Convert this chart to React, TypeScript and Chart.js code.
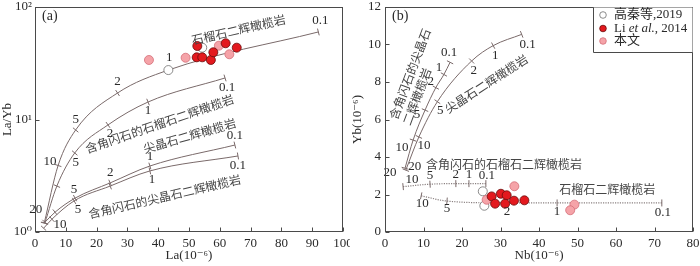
import React, { useEffect, useRef } from "react";
import { Chart, registerables } from "chart.js";

Chart.register(...registerables);

const SERIF = '"Liberation Serif", "DejaVu Serif", "Noto Sans CJK SC", serif';
const LINE = "#7a6a6a";
const AXIS = "#4a4a4a";
const TXT = "#2a2a2a";
const CJK_TXT = "#454545";

// melt-fraction tick labels (%) along the model curves
const MELT6 = ["20", "10", "5", "2", "1", "0.1"];
const MELT5 = ["10", "5", "2", "1", "0.1"];

// ---------------- Panel (a): La vs La/Yb ----------------
const aGrtLa = [3.0, 7.5, 13.2, 26.8, 43.3, 92.0];
const aGrtLaYb = [1.2, 3.9, 8.07, 17.2, 27.5, 60];
const aHblGrtLa = [3.2, 7.1, 12.9, 23.7, 36.7, 61.7];
const aHblGrtLaYb = [1.2, 2.56, 5.04, 8.95, 14.3, 23.4];
const aSpLa = [3.2, 6.5, 13.0, 24.4, 37.3, 64.9];
const aSpLaYb = [1.22, 1.5, 2.0, 2.73, 3.86, 5.93];
const aHblSpLa = [2.8, 5.5, 12.7, 24.4, 37.3, 65.9];
const aHblSpLaYb = [1.08, 1.3, 1.89, 2.56, 3.49, 4.74];

const aGaoLa = [54.3, 43.3];
const aGaoLaYb = [43.5, 27.5];
const aLiLa = [52.5, 54.3, 57.1, 57.9, 52.7, 61.9, 65.5];
const aLiLaYb = [35.7, 35.7, 33.8, 39.6, 45.0, 47.6, 43.5];
const aThisLa = [37.0, 48.9, 59.7, 63.1];
const aThisLaYb = [33.8, 35.4, 45.3, 38.0];

const aYTicks = [1, 10, 100];
const aYTickText = ["10⁰", "10¹", "10²"];

// ---------------- Panel (b): Nb vs Yb ----------------
const bHblSpNb = [5.2, 7.3, 10.4, 13.2, 15.3, 16.9];
const bHblSpYb = [3.4, 4.9, 6.5, 7.7, 8.4, 9.05];
const bSpNb = [5.4, 8.8, 13.6, 22.5, 28.1, 35.5];
const bSpYb = [3.3, 5.07, 6.95, 9.12, 9.94, 10.54];
const bHblGrtNb = [4.7, 11.7, 18.4, 21.8, 26.2];
const bHblGrtYb = [2.42, 2.55, 2.58, 2.58, 2.58];
const bGrtNb = [9.4, 16.1, 31.7, 44.7, 71.9];
const bGrtYb = [1.93, 1.65, 1.55, 1.55, 1.55];

const bGaoNb = [25.4, 25.8];
const bGaoYb = [2.17, 1.4];
const bLiNb = [27.7, 30.1, 31.6, 28.6, 31.2, 33.5, 36.2];
const bLiYb = [1.9, 2.04, 1.96, 1.51, 1.51, 1.67, 1.69];
const bThisNb = [33.6, 26.4, 49.2, 48.1];
const bThisYb = [2.44, 1.72, 1.46, 1.16];

// legend
const LEGEND = ["高秦等,2019", "Li et al., 2014", "本文"];

// ---------------- styling (label offsets in px, null = no label) ----------------
type Off = [number, number] | null;
const aGrtOff: Off[] = [null, [-8, -4], [0, -10], [0, -11], [1, -12], [2, -11]];
const aHblGrtOff: Off[] = [null, null, [1, 10], [2, 9], [0, 9], [2, 10]];
const aSpOff: Off[] = [[-9, -13], null, [-1, -9], [0, -10], [0, -9], [0, -9]];
const aHblSpOff: Off[] = [null, [8, 5], [4, 9], null, [2, 9], [0, 10]];
const bHblSpOff: Off[] = [[-15, 4], [-11, 7], [-8, 4], [-5, -6], [-5, -7], [-1, -10]];
const bSpOff: Off[] = [[9, -4], [5, 9], [3, 9], [2, 10], [2, 10], [6, 10]];
const bHblGrtOff: Off[] = [[9, -7], [0, -9], [0, -9], [0, -9], [1, -8]];
const bGrtOff: Off[] = [[1, 8], [0, 8], [0, 9], [0, 9], [1, 10]];

const RED = { bg: "#e3191e", border: "#6a0c0c" };
const PINK = { bg: "#f5a3a8", border: "#d46f78" };
const OPEN = { bg: "#ffffff", border: "#6f6f6f" };

type Curve = { x: number[]; y: number[]; melt: string[]; off: Off[]; dashed?: boolean };
type Pts = { x: number[]; y: number[]; c: { bg: string; border: string } };
type Txt = { t: string; x: number; y: number; a: number; s: number };

const xy = (xs: number[], ys: number[]) => xs.map((v, i) => ({ x: v, y: ys[i] }));

function perpRotation(c: any) {
  if (c.type !== "data") return 0;
  const d = c.dataset.data;
  const i = c.dataIndex;
  const sx = c.chart.scales.x;
  const sy = c.chart.scales.y;
  if (!sx || !sy) return 0;
  const a = d[Math.max(0, i - 1)];
  const b = d[Math.min(d.length - 1, i + 1)];
  const ang = Math.atan2(
    sy.getPixelForValue(b.y) - sy.getPixelForValue(a.y),
    sx.getPixelForValue(b.x) - sx.getPixelForValue(a.x)
  );
  return (ang * 180) / Math.PI + 90;
}

type Spec = {
  xMax: number;
  xStep: number;
  log: boolean;
  yMin: number;
  yMax: number;
  yStep?: number;
  xTitle: string;
  yTitle: string;
  curves: Curve[];
  pts: Pts[];
  texts: Txt[];
  letter: string;
  legend: boolean;
};

function makeChart(canvas: HTMLCanvasElement, s: Spec) {
  const datasets: any[] = [];
  s.pts.forEach((p) => {
    datasets.push({
      data: xy(p.x, p.y),
      showLine: false,
      pointStyle: "circle",
      pointRadius: 4.5,
      pointBackgroundColor: p.c.bg,
      pointBorderColor: p.c.border,
      pointBorderWidth: 0.8,
      order: 0,
    });
  });
  s.curves.forEach((cv) => {
    datasets.push({
      data: xy(cv.x, cv.y),
      showLine: true,
      borderColor: cv.dashed ? "#8a8080" : LINE,
      borderWidth: cv.dashed ? 1.2 : 1,
      borderDash: cv.dashed ? [1.2, 1.2] : [],
      cubicInterpolationMode: "monotone",
      tension: 0.4,
      fill: false,
      pointStyle: "line",
      pointRadius: 3.5,
      pointBorderColor: LINE,
      pointBackgroundColor: LINE,
      pointBorderWidth: 1,
      rotation: perpRotation,
      order: 1,
      clip: false,
      meltLabels: cv.melt,
      meltOff: cv.off,
    });
  });

  const plugin = {
    id: "deco",
    afterDatasetsDraw(chart: any) {
      const { ctx } = chart;
      const sx = chart.scales.x;
      const sy = chart.scales.y;
      ctx.save();
      ctx.fillStyle = TXT;
      ctx.font = `13px ${SERIF}`;
      ctx.textAlign = "center";
      ctx.textBaseline = "middle";
      chart.data.datasets.forEach((ds: any) => {
        if (!ds.meltLabels) return;
        ds.data.forEach((p: any, i: number) => {
          const o = ds.meltOff[i];
          if (!o) return;
          ctx.fillText(ds.meltLabels[i], sx.getPixelForValue(p.x) + o[0], sy.getPixelForValue(p.y) + o[1]);
        });
      });
      ctx.fillStyle = CJK_TXT;
      s.texts.forEach((t) => {
        ctx.save();
        ctx.translate(sx.getPixelForValue(t.x), sy.getPixelForValue(t.y));
        ctx.rotate((t.a * Math.PI) / 180);
        ctx.font = `${t.s}px ${SERIF}`;
        ctx.fillText(t.t, 0, 0);
        ctx.restore();
      });
      ctx.restore();
    },
    afterDraw(chart: any) {
      const { ctx, chartArea: ca } = chart;
      const sx = chart.scales.x;
      const sy = chart.scales.y;
      ctx.save();
      ctx.strokeStyle = AXIS;
      ctx.lineWidth = 1;
      const L = Math.round(ca.left) + 0.5;
      const R = Math.round(ca.right) - 0.5;
      const T = Math.round(ca.top) + 0.5;
      const B = Math.round(ca.bottom) - 0.5;
      ctx.strokeRect(L, T, R - L, B - T);
      ctx.beginPath();
      sx.ticks.forEach((t: any) => {
        const px = Math.round(sx.getPixelForValue(t.value)) + 0.5;
        ctx.moveTo(px, B);
        ctx.lineTo(px, B - 4);
      });
      sy.ticks.forEach((t: any) => {
        const py = Math.round(sy.getPixelForValue(t.value)) + 0.5;
        ctx.moveTo(L, py);
        ctx.lineTo(L + 4, py);
      });
      ctx.stroke();
      ctx.fillStyle = TXT;
      ctx.font = `14px ${SERIF}`;
      ctx.textAlign = "left";
      ctx.textBaseline = "middle";
      ctx.fillText(s.letter, ca.left + 7, ca.top + 9);
      if (s.legend) {
        const bx = 243.5;
        const by = 52.5;
        ctx.fillStyle = "#fff";
        ctx.fillRect(bx, T, R - bx, by - T);
        ctx.beginPath();
        ctx.moveTo(bx, T);
        ctx.lineTo(bx, by);
        ctx.lineTo(R, by);
        ctx.stroke();
        const rows = [15, 28.5, 41];
        const cols = [OPEN, RED, PINK];
        rows.forEach((ry, i) => {
          ctx.beginPath();
          ctx.arc(253, ry, 3.3, 0, Math.PI * 2);
          ctx.fillStyle = cols[i].bg;
          ctx.fill();
          ctx.strokeStyle = cols[i].border;
          ctx.lineWidth = 0.8;
          ctx.stroke();
        });
        ctx.fillStyle = TXT;
        ctx.textBaseline = "middle";
        ctx.font = `13px ${SERIF}`;
        ctx.fillText(LEGEND[0], 264, rows[0]);
        const parts = LEGEND[1].split(/(et al\.)/);
        let cx = 264;
        parts.forEach((p) => {
          ctx.font = p === "et al." ? `italic 13px ${SERIF}` : `13px ${SERIF}`;
          ctx.fillText(p, cx, rows[1]);
          cx += ctx.measureText(p).width;
        });
        ctx.font = `13px ${SERIF}`;
        ctx.fillText(LEGEND[2], 264, rows[2]);
      }
      ctx.restore();
    },
  };

  const tickFont = { family: SERIF, size: 13 };
  const yScale: any = s.log
    ? {
        type: "logarithmic",
        min: s.yMin,
        max: s.yMax,
        afterBuildTicks: (sc: any) => {
          sc.ticks = aYTicks.map((v) => ({ value: v }));
        },
        ticks: {
          font: tickFont,
          color: TXT,
          padding: 3,
          callback: (v: number) => {
            const i = aYTicks.indexOf(v);
            return i >= 0 ? aYTickText[i] : "";
          },
        },
      }
    : {
        type: "linear",
        min: s.yMin,
        max: s.yMax,
        ticks: { stepSize: s.yStep, font: tickFont, color: TXT, padding: 4 },
      };

  return new Chart(canvas, {
    type: "scatter",
    data: { datasets },
    options: {
      animation: false,
      responsive: false,
      devicePixelRatio: 1,
      events: [],
      layout: { padding: { top: 7, right: 7, left: 0, bottom: 0 } },
      plugins: { legend: { display: false }, tooltip: { enabled: false } },
      scales: {
        x: {
          type: "linear",
          min: 0,
          max: s.xMax,
          ticks: { stepSize: s.xStep, font: tickFont, color: TXT, padding: 4, maxRotation: 0, autoSkip: false },
          grid: { drawOnChartArea: false, drawTicks: false },
          border: { display: false },
          title: { display: true, text: s.xTitle, font: tickFont, color: TXT, padding: { top: 0, bottom: 3 } },
          afterFit: (a: any) => {
            a.height = 34;
            a.paddingLeft = 0;
            a.paddingRight = 0;
          },
        },
        y: {
          ...yScale,
          grid: { drawOnChartArea: false, drawTicks: false },
          border: { display: false },
          title: { display: true, text: s.yTitle, font: tickFont, color: TXT, padding: { top: 0, bottom: 0 } },
          afterFit: (a: any) => {
            a.width = 35;
            a.paddingTop = 0;
            a.paddingBottom = 0;
          },
        },
      },
    } as any,
    plugins: [plugin],
  });
}

const specA: Spec = {
  xMax: 100,
  xStep: 10,
  log: true,
  yMin: 1,
  yMax: 100,
  xTitle: "La(10⁻⁶)",
  yTitle: "La/Yb",
  letter: "(a)",
  legend: false,
  curves: [
    { x: aGrtLa, y: aGrtLaYb, melt: MELT6, off: aGrtOff },
    { x: aHblGrtLa, y: aHblGrtLaYb, melt: MELT6, off: aHblGrtOff },
    { x: aSpLa, y: aSpLaYb, melt: MELT6, off: aSpOff },
    { x: aHblSpLa, y: aHblSpLaYb, melt: MELT6, off: aHblSpOff },
  ],
  pts: [
    { x: aLiLa, y: aLiLaYb, c: RED },
    { x: aThisLa, y: aThisLaYb, c: PINK },
    { x: aGaoLa, y: aGaoLaYb, c: OPEN },
  ],
  texts: [
    { t: "石榴石二辉橄榄岩", x: 66.2, y: 61.2, a: -13, s: 12 },
    { t: "含角闪石的石榴石二辉橄榄岩", x: 40.6, y: 8.93, a: -19, s: 12 },
    { t: "尖晶石二辉橄榄岩", x: 50.3, y: 6.99, a: -16, s: 12 },
    { t: "含角闪石的尖晶石二辉橄榄岩", x: 42.2, y: 2.01, a: -13, s: 12 },
  ],
};

const specB: Spec = {
  xMax: 80,
  xStep: 10,
  log: false,
  yMin: 0,
  yMax: 12,
  yStep: 2,
  xTitle: "Nb(10⁻⁶)",
  yTitle: "Yb(10⁻⁶)",
  letter: "(b)",
  legend: true,
  curves: [
    { x: bHblSpNb, y: bHblSpYb, melt: MELT6, off: bHblSpOff },
    { x: bSpNb, y: bSpYb, melt: MELT6, off: bSpOff },
    { x: bHblGrtNb, y: bHblGrtYb, melt: MELT5, off: bHblGrtOff, dashed: true },
    { x: bGrtNb, y: bGrtYb, melt: MELT5, off: bGrtOff, dashed: true },
  ],
  pts: [
    { x: bLiNb, y: bLiYb, c: RED },
    { x: bThisNb, y: bThisYb, c: PINK },
    { x: bGaoNb, y: bGaoYb, c: OPEN },
  ],
  texts: [
    { t: "含角闪石的尖晶石", x: 6.8, y: 8.4, a: -69.5, s: 12 },
    { t: "二辉橄榄岩", x: 8.6, y: 7.2, a: -69.5, s: 12 },
    { t: "尖晶石二辉橄榄岩", x: 26.5, y: 7.84, a: -33, s: 12 },
    { t: "含角闪石的石榴石二辉橄榄岩", x: 30.9, y: 3.52, a: 0, s: 12 },
    { t: "石榴石二辉橄榄岩", x: 57.7, y: 2.19, a: 0, s: 12 },
  ],
};

export default function App() {
  const refA = useRef<HTMLCanvasElement>(null);
  const refB = useRef<HTMLCanvasElement>(null);
  useEffect(() => {
    const ca = makeChart(refA.current!, specA);
    const cb = makeChart(refB.current!, specB);
    return () => {
      ca.destroy();
      cb.destroy();
    };
  }, []);
  const cs: React.CSSProperties = { position: "absolute", top: 0, width: 350, height: 266, display: "block" };
  return (
    <div style={{ position: "fixed", left: 0, top: 0, width: 700, height: 266, background: "#fff", overflow: "hidden" }}>
      <canvas ref={refA} width={350} height={266} style={{ ...cs, left: 0 }} />
      <canvas ref={refB} width={350} height={266} style={{ ...cs, left: 350 }} />
    </div>
  );
}
